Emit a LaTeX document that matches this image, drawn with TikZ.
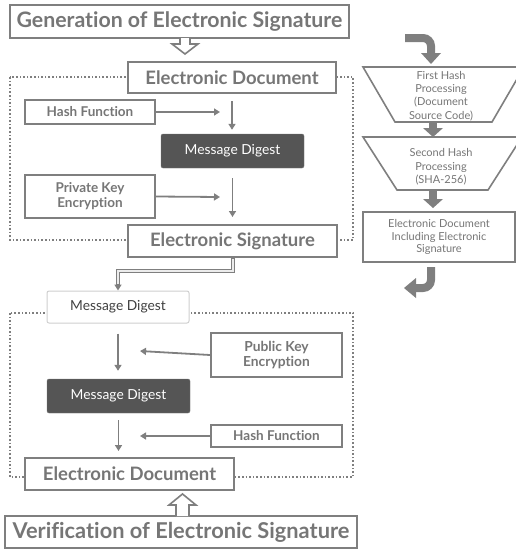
\documentclass[tikz,border=0pt]{standalone}
\usepackage{fontspec}
\setmainfont{Lato}[Ligatures=NoCommon]
\usetikzlibrary{arrows.meta}
\definecolor{gr}{HTML}{7F7F7F}
\definecolor{txt}{HTML}{767676}
\definecolor{dk}{HTML}{555555}
\definecolor{lt}{HTML}{CFCFCF}
\begin{document}
\begin{tikzpicture}[x=1pt,y=-1pt,
  box/.style={draw=gr,line width=2pt,fill=white,text=txt,font=\bfseries,align=center,inner sep=0pt,anchor=center},
  dkbox/.style={fill=dk,draw=dk!80!white,rounded corners=2pt,text=white,inner sep=0pt,font=\fontsize{13.8}{15}\selectfont,anchor=center},
  ltbox/.style={fill=white,draw=lt,line width=1pt,rounded corners=2pt,text=black!75,inner sep=0pt,font=\fontsize{13.8}{15}\selectfont,anchor=center},
  frame/.style={draw=gr,line width=1.6pt,dotted},
  arr/.style={draw=gr,line width=1.8pt,-{Triangle[length=6pt,width=7pt]}},
  rtxt/.style={text=txt,font=\fontsize{11}{13.3}\selectfont,align=center,anchor=center},
  thick/.style={draw=gr,line width=8pt},
  hd/.style={fill=gr,draw=none}
]
\useasboundingbox (0,0) rectangle (516,549);
% frames
\draw[frame] (10,77) rectangle (353,240);
\draw[frame] (10,313) rectangle (353,477);
% title boxes
\node[box,minimum width=339pt,minimum height=33pt,font=\bfseries\fontsize{21.3}{24}\selectfont] (title) at (179.5,21.5) {Generation of Electronic Signature};
\node[box,minimum width=352pt,minimum height=32pt,font=\bfseries\fontsize{21.8}{24}\selectfont] (ver) at (181,532) {Verification of Electronic Signature};
% hollow arrows
\draw[gr,line width=1.6pt,fill=white,line join=miter] (180,38) -- (180,44) -- (172,44) -- (185,54) -- (198,44) -- (190,44) -- (190,38);
\draw[gr,line width=1.6pt,fill=white,line join=miter] (176,516) -- (176,505) -- (169,505) -- (182.5,494) -- (196,505) -- (189,505) -- (189,516);
% generation part
\node[box,minimum width=208pt,minimum height=31pt,font=\bfseries\fontsize{18.5}{20}\selectfont] (ed1) at (232,77.5) {Electronic Document};
\node[box,minimum width=130pt,minimum height=24pt,font=\bfseries\fontsize{13.5}{15}\selectfont] (hf1) at (90,112) {Hash Function};
\node[dkbox,minimum width=143pt,minimum height=34pt] (md1) at (232.5,151) {Message Digest};
\node[box,minimum width=130pt,minimum height=43pt,font=\bfseries\fontsize{13.5}{15}\selectfont] (pke) at (90,196.5) {Private Key\\Encryption};
\node[box,minimum width=209pt,minimum height=32pt,font=\bfseries\fontsize{18.5}{20}\selectfont] (es) at (232.5,241) {Electronic Signature};
\coordinate (c1) at (220,112);
\coordinate (c2) at (220,197);
\draw[arr] ([yshift=-7pt]ed1.south) -- ([yshift=4pt]ed1.south |- md1.north);
\draw[arr] (hf1.east) -- (c1);
\draw[arr] ([yshift=-10pt]md1.south) -- ([yshift=7pt]md1.south |- es.north);
\draw[arr] (pke.east) -- (c2);
% verification part
\node[ltbox,minimum width=142pt,minimum height=32pt] (md2) at (118,307) {Message Digest};
\node[box,minimum width=131pt,minimum height=44pt,font=\bfseries\fontsize{13.8}{15}\selectfont] (pub) at (276.5,355) {Public Key\\Encryption};
\node[dkbox,minimum width=143pt,minimum height=34pt] (md3) at (118.5,396) {Message Digest};
\node[box,minimum width=131pt,minimum height=22pt,font=\bfseries\fontsize{13.5}{15}\selectfont] (hf2) at (276.5,436) {Hash Function};
\node[box,minimum width=209pt,minimum height=32pt,font=\bfseries\fontsize{18.5}{20}\selectfont] (ed2) at (129.5,474) {Electronic Document};
\coordinate (c3) at (140,351);
\coordinate (c4) at (140,436);
\coordinate (k1) at (233,271);
\coordinate (k2) at (118,271);
\draw[gr,line width=3.2pt] (es.south -| k1) -- (k1) -- (k2) -- ([yshift=6pt]md2.north);
\draw[white!85!gray,line width=1.2pt] ([yshift=-1pt]es.south -| k1) -- (k1) -- (k2) -- ([yshift=7pt]md2.north);
\draw[arr] ([yshift=7pt]md2.north) -- (md2.north);
\draw[arr] ([yshift=-10pt]md2.south) -- ([yshift=8pt]md2.south |- md3.north);
\draw[arr] (pub.west) -- (c3);
\draw[arr] ([yshift=-7pt]md3.south) -- ([yshift=6pt]md3.south |- ed2.north);
\draw[arr] (hf2.west) -- (c4);
% right column
\draw[gr,line width=1.6pt,fill=white] (363,67) -- (524,67) -- (492,122) -- (395,122) -- cycle;
\node[rtxt] (t1) at (441,96) {First Hash\\Processing\\(Document\\Source Code)};
\draw[gr,line width=1.6pt,fill=white] (363,137) -- (522,137) -- (488,190) -- (397,190) -- cycle;
\node[rtxt] (t2) at (441,167) {Second Hash\\Processing\\(SHA-256)};
\node[box,minimum width=152pt,minimum height=50pt,line width=1.6pt,font=\fontsize{11}{12.7}\selectfont] (t3) at (439,237) {Electronic Document\\Including Electronic\\Signature};
% thick arrows
\draw[thick,rounded corners=8pt] (405,38) -| (431,53);
\fill[hd] (421,53) -- (441,53) -- (431,64) -- cycle;
\fill[gr] (429,122) rectangle (437,128);
\fill[hd] (423,128) -- (443,128) -- (433,137) -- cycle;
\fill[gr] (429,190) rectangle (437,199);
\fill[hd] (423,199) -- (443,199) -- (433,208) -- cycle;
\draw[thick,rounded corners=8pt] (431,267) |- (415,288);
\fill[hd] (416,278) -- (416,298) -- (404,288) -- cycle;
\end{tikzpicture}
\end{document}
